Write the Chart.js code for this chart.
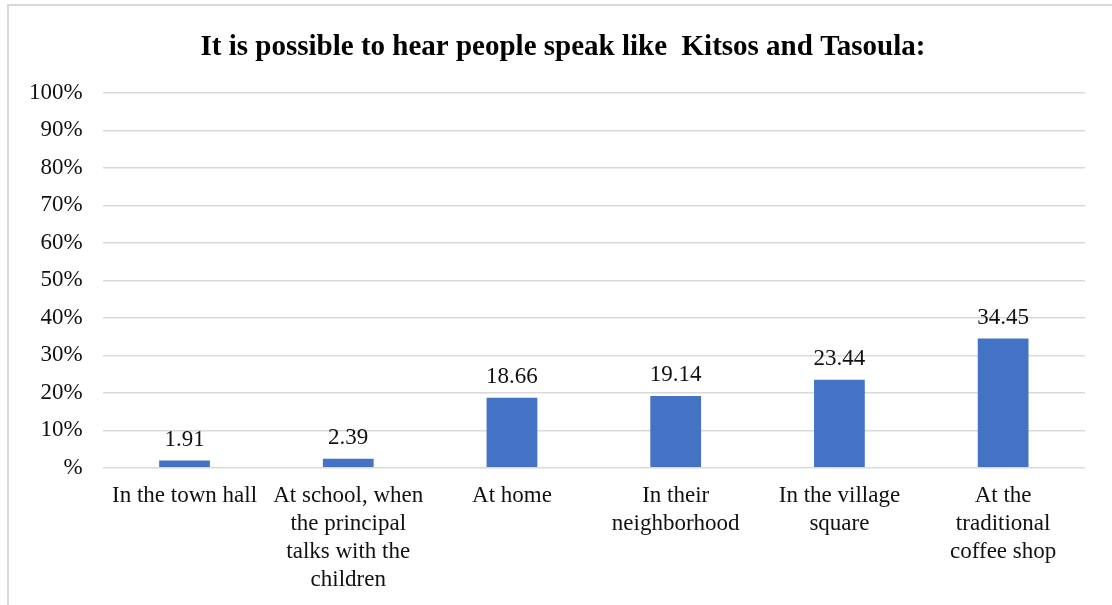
<!DOCTYPE html>
<html>
<head>
<meta charset="utf-8">
<script src="https://cdn.jsdelivr.net/npm/chart.js@4/dist/chart.umd.min.js"></script>
<style>
  html, body { margin: 0; padding: 0; background: #fff; overflow: hidden; }
  #frame {
    position: absolute; left: 7px; top: 4px;
    width: 1120px; height: 620px;
    border: 2px solid #d9d9d9;
    box-sizing: border-box;
  }
  #chart { position: absolute; left: 0; top: 0; }
</style>
</head>
<body>
<div id="frame"><canvas id="chart" width="1108" height="594"></canvas></div>
<script>
const places = [
  "In the town hall",
  ["At school, when", "the principal", "talks with the", "children"],
  "At home",
  ["In their", "neighborhood"],
  ["In the village", "square"],
  ["At the", "traditional", "coffee shop"]
];
const shares = [1.91, 2.39, 18.66, 19.14, 23.44, 34.45];
const yTicks = [0, 10, 20, 30, 40, 50, 60, 70, 80, 90, 100];

const serif = "'Liberation Serif', 'Times New Roman', serif";
const ink = "#111";

// writes the value above each bar
const valueLabels = {
  id: "valueLabels",
  afterDatasetsDraw(chart) {
    const ctx = chart.ctx;
    const meta = chart.getDatasetMeta(0);
    ctx.save();
    ctx.font = "23px " + serif;
    ctx.fillStyle = ink;
    ctx.textAlign = "center";
    ctx.textBaseline = "middle";
    meta.data.forEach((bar, i) => {
      ctx.fillText(shares[i].toFixed(2), bar.x, bar.y - 21);
    });
    ctx.restore();
  }
};

new Chart(document.getElementById("chart"), {
  type: "bar",
  data: {
    labels: places,
    datasets: [{
      data: shares,
      backgroundColor: "#4472C4",
      borderWidth: 0,
      categoryPercentage: 1,
      barPercentage: 0.31
    }]
  },
  options: {
    responsive: false,
    animation: false,
    layout: { padding: { top: 10, left: 0, right: 0, bottom: 0 } },
    plugins: {
      legend: { display: false },
      tooltip: { enabled: false },
      title: {
        display: true,
        text: "It is possible to hear people speak like  Kitsos and Tasoula:",
        color: "#000",
        font: { family: serif, size: 29, weight: "bold" },
        padding: { top: 14, bottom: 28 }
      }
    },
    scales: {
      x: {
        grid: { display: false },
        border: { display: false },
        ticks: {
          color: ink,
          font: { family: serif, size: 23, lineHeight: 1.22 },
          maxRotation: 0,
          autoSkip: false,
          padding: 6
        }
      },
      y: {
        min: 0,
        max: 100,
        afterBuildTicks: (axis) => { axis.ticks = yTicks.map(v => ({ value: v })); },
        grid: { color: "#d9d9d9", lineWidth: 1.5, drawTicks: false },
        border: { display: false },
        ticks: {
          color: ink,
          font: { family: serif, size: 23 },
          padding: 20,
          callback: (v) => v === 0 ? "%" : v + "%"
        }
      },
      // empty strip on the right so the grid stops short of the edge
      yRight: {
        position: "right",
        display: true,
        grid: { display: false },
        border: { display: false },
        ticks: { display: false },
        afterFit: (axis) => { axis.width = 32; }
      }
    }
  },
  plugins: [valueLabels]
});
</script>
</body>
</html>
